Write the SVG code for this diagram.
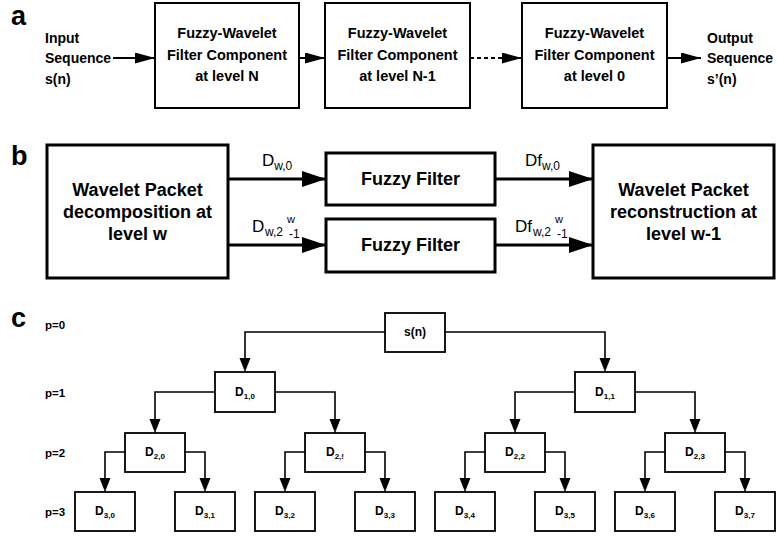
<svg xmlns="http://www.w3.org/2000/svg" width="777" height="536" viewBox="0 0 777 536">
<style>
text{font-family:"Liberation Sans",Arial,sans-serif;fill:#000}
.pl{font-size:27px;font-weight:bold}
.ta{font-size:14.5px;font-weight:bold;text-anchor:middle}
.tl{font-size:14px;font-weight:bold}
.tb{font-size:18px;font-weight:bold;text-anchor:middle}
.lb{font-size:17px}
.tc{font-size:12px;font-weight:bold;text-anchor:middle}
.pc{font-size:11.5px;font-weight:bold}
.ba{fill:#fff;stroke:#000;stroke-width:2}
.bb{fill:#fff;stroke:#000;stroke-width:3}
.bc{fill:#fff;stroke:#000;stroke-width:1.8}
.ca{fill:none;stroke:#000;stroke-width:2;marker-end:url(#ma)}
.cb{fill:none;stroke:#000;stroke-width:3;marker-end:url(#mb)}
.cc{fill:none;stroke:#000;stroke-width:1.6;marker-end:url(#mc)}
</style>
<defs>
<marker id="ma" markerUnits="userSpaceOnUse" markerWidth="20" markerHeight="11" refX="20" refY="5.5" orient="auto"><path d="M0,0 L20,5.5 L0,11 z" fill="#000"/></marker>
<marker id="mb" markerUnits="userSpaceOnUse" markerWidth="24" markerHeight="16" refX="24" refY="8" orient="auto"><path d="M0,0 L24,8 L0,16 z" fill="#000"/></marker>
<marker id="mc" markerUnits="userSpaceOnUse" markerWidth="11" markerHeight="14" refX="14" refY="5.5" orient="auto"><path d="M0,0 L14,5.5 L0,11 z" fill="#000"/></marker>
</defs>

<g id="labels">
<text class="pl" x="11" y="25">a</text>
<text class="pl" x="11" y="165">b</text>
<text class="pl" x="11" y="327">c</text>
</g>

<g id="connectors">
<path class="ca" d="M113,58 H155"/>
<path class="ca" d="M299,58 H325"/>
<path class="ca" d="M470,58 H522" stroke-dasharray="4 3"/>
<path class="ca" d="M667,58 H701"/>
<path class="cb" d="M228,179 H326"/>
<path class="cb" d="M228,245 H326"/>
<path class="cb" d="M495,179 H593"/>
<path class="cb" d="M495,245 H593"/>
<path class="cc" d="M385,332 H245 V372"/>
<path class="cc" d="M445,332 H605 V372"/>
<path class="cc" d="M215,392 H155 V433"/>
<path class="cc" d="M275,392 H335 V433"/>
<path class="cc" d="M575,392 H515 V433"/>
<path class="cc" d="M635,392 H695 V433"/>
<path class="cc" d="M125,452 H105 V492"/>
<path class="cc" d="M185,452 H205 V492"/>
<path class="cc" d="M305,452 H285 V492"/>
<path class="cc" d="M365,452 H385 V492"/>
<path class="cc" d="M485,452 H465 V492"/>
<path class="cc" d="M545,452 H565 V492"/>
<path class="cc" d="M665,452 H645 V492"/>
<path class="cc" d="M725,452 H745 V492"/>
</g>

<g id="input">
<text class="tl" x="45" y="43">Input</text>
<text class="tl" x="45" y="63">Sequence</text>
<text class="tl" x="45" y="84">s(n)</text>
</g>
<g id="fw-N">
<rect class="ba" x="155" y="3" width="144" height="105"/>
<text class="ta" x="227" y="38">Fuzzy-Wavelet</text>
<text class="ta" x="227" y="60">Filter Component</text>
<text class="ta" x="227" y="81">at level N</text>
</g>
<g id="fw-N1">
<rect class="ba" x="325" y="3" width="145" height="105"/>
<text class="ta" x="397.5" y="38">Fuzzy-Wavelet</text>
<text class="ta" x="397.5" y="60">Filter Component</text>
<text class="ta" x="397.5" y="81">at level N-1</text>
</g>
<g id="fw-0">
<rect class="ba" x="522" y="3" width="145" height="105"/>
<text class="ta" x="594.5" y="38">Fuzzy-Wavelet</text>
<text class="ta" x="594.5" y="60">Filter Component</text>
<text class="ta" x="594.5" y="81">at level 0</text>
</g>
<g id="output">
<text class="tl" x="707" y="43">Output</text>
<text class="tl" x="707" y="63">Sequence</text>
<text class="tl" x="707" y="84">s’(n)</text>
</g>

<g id="wp-dec">
<rect class="bb" x="47" y="145" width="181" height="133"/>
<text class="tb" x="137.5" y="196">Wavelet Packet</text>
<text class="tb" x="137.5" y="218">decomposition at</text>
<text class="tb" x="137.5" y="240">level w</text>
</g>
<g id="ff1">
<rect class="bb" x="326" y="153" width="169" height="52"/>
<text class="tb" x="410.5" y="185">Fuzzy Filter</text>
</g>
<g id="ff2">
<rect class="bb" x="326" y="219" width="169" height="53"/>
<text class="tb" x="410.5" y="251">Fuzzy Filter</text>
</g>
<g id="wp-rec">
<rect class="bb" x="593" y="145" width="181" height="133"/>
<text class="tb" x="683.5" y="196">Wavelet Packet</text>
<text class="tb" x="683.5" y="218">reconstruction at</text>
<text class="tb" x="683.5" y="240">level w-1</text>
</g>
<g id="edge-labels">
<text class="lb" x="262" y="166">D<tspan font-size="12" dy="4">w,0</tspan></text>
<text class="lb" x="252" y="232">D<tspan font-size="12" x="265" y="236">w,2</tspan><tspan font-size="11" x="287" y="223">w</tspan><tspan font-size="12" x="289" y="238">-1</tspan></text>
<text class="lb" x="525" y="166">Df<tspan font-size="12" dy="4">w,0</tspan></text>
<text class="lb" x="515" y="232">Df<tspan font-size="12" x="533" y="236">w,2</tspan><tspan font-size="11" x="555" y="223">w</tspan><tspan font-size="12" x="557" y="238">-1</tspan></text>
</g>

<g id="plevels">
<text class="pc" x="45" y="329">p=0</text>
<text class="pc" x="45" y="397">p=1</text>
<text class="pc" x="45" y="457">p=2</text>
<text class="pc" x="45" y="516">p=3</text>
</g>

<g id="s-n"><rect class="bc" x="385" y="313" width="60" height="39"/><text class="tc" x="415" y="336">s(n)</text></g>
<g id="D10"><rect class="bc" x="215" y="372" width="60" height="40"/><text class="tc" x="245" y="396">D<tspan font-size="8" dy="3">1,0</tspan></text></g>
<g id="D11"><rect class="bc" x="575" y="372" width="60" height="40"/><text class="tc" x="605" y="396">D<tspan font-size="8" dy="3">1,1</tspan></text></g>
<g id="D20"><rect class="bc" x="125" y="433" width="60" height="39"/><text class="tc" x="155" y="456">D<tspan font-size="8" dy="3">2,0</tspan></text></g>
<g id="D21"><rect class="bc" x="305" y="433" width="60" height="39"/><text class="tc" x="335" y="456">D<tspan font-size="8" dy="3">2,!</tspan></text></g>
<g id="D22"><rect class="bc" x="485" y="433" width="60" height="39"/><text class="tc" x="515" y="456">D<tspan font-size="8" dy="3">2,2</tspan></text></g>
<g id="D23"><rect class="bc" x="665" y="433" width="60" height="39"/><text class="tc" x="695" y="456">D<tspan font-size="8" dy="3">2,3</tspan></text></g>
<g id="D30"><rect class="bc" x="75" y="492" width="60" height="39"/><text class="tc" x="105" y="515">D<tspan font-size="8" dy="3">3,0</tspan></text></g>
<g id="D31"><rect class="bc" x="175" y="492" width="60" height="39"/><text class="tc" x="205" y="515">D<tspan font-size="8" dy="3">3,1</tspan></text></g>
<g id="D32"><rect class="bc" x="255" y="492" width="60" height="39"/><text class="tc" x="285" y="515">D<tspan font-size="8" dy="3">3,2</tspan></text></g>
<g id="D33"><rect class="bc" x="355" y="492" width="60" height="39"/><text class="tc" x="385" y="515">D<tspan font-size="8" dy="3">3,3</tspan></text></g>
<g id="D34"><rect class="bc" x="435" y="492" width="60" height="39"/><text class="tc" x="465" y="515">D<tspan font-size="8" dy="3">3,4</tspan></text></g>
<g id="D35"><rect class="bc" x="535" y="492" width="60" height="39"/><text class="tc" x="565" y="515">D<tspan font-size="8" dy="3">3,5</tspan></text></g>
<g id="D36"><rect class="bc" x="615" y="492" width="60" height="39"/><text class="tc" x="645" y="515">D<tspan font-size="8" dy="3">3,6</tspan></text></g>
<g id="D37"><rect class="bc" x="715" y="492" width="60" height="39"/><text class="tc" x="745" y="515">D<tspan font-size="8" dy="3">3,7</tspan></text></g>
</svg>
